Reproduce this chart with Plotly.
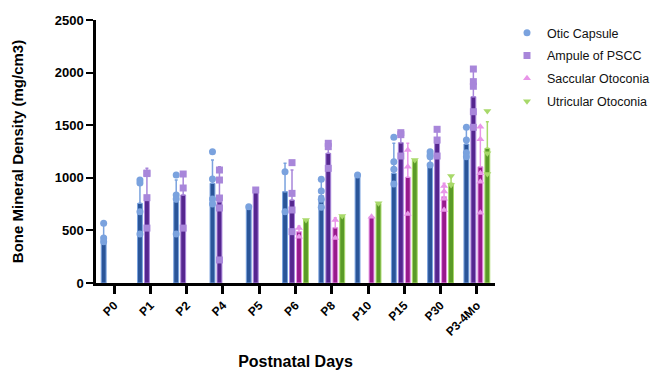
import plotly.graph_objects as go

# ---------------- data ----------------
categories = ["P0", "P1", "P2", "P4", "P5", "P6", "P8", "P10", "P15", "P30", "P3-4Mo"]
series_names = ["Otic Capsule", "Ampule of PSCC", "Saccular Otoconia", "Utricular Otoconia"]

otic_mean = [440, 757, 773, 948, 725, 868, 830, 1027, 1043, 1138, 1321]
otic_sd = [127, 206, 206, 221, None, 270, 165, None, 285, 110, 160]
otic_points = [[567, 427, 393], [979, 950, 678, 466], [1027, 837, 799, 466],
               [1248, 989, 799, 751], [725], [1058, 678], [986, 875, 795, 720],
               [1027], [1385, 1153, 1081, 941], [1248, 1217, 1201, 1122],
               [1480, 1359, 1239, 1201]]

ampule_mean = [None, 820, 837, 773, 884, 789, 1233, None, 1334, 1330, 1771]
ampule_sd = [None, 270, 221, 332, None, 285, 95, None, 95, 131, 263]
ampule_points = [[], [1045, 1040, 811, 522], [1036, 903, 522],
                 [1074, 979, 808, 713, 219], [884], [1144, 852, 694, 488],
                 [1328, 1296, 1090], [], [1429, 1410, 1207], [1461, 1359, 1207],
                 [2034, 1914, 1870, 1628, 1480]]

saccular_mean = [None, None, None, None, None, 488, 526, 630, 1005, 820, 1105]
saccular_sd = [None, None, None, None, None, 54, 95, None, 323, 128, 387]
saccular_points = [[], [], [], [], [], [523, 440], [599, 428], [630],
                   [1264, 1105, 656], [922, 870, 800, 694],
                   [1486, 1366, 1043, 963, 668]]

utricular_mean = [None, None, None, None, None, 599, 637, 757, 1169, 948, 1280]
utricular_sd = [None, None, None, None, None, None, None, None, None, 69, 253]
utricular_points = [[], [], [], [], [], [599], [637], [757], [1169],
                    [1017, 932], [1635, 1233, 1036]]

y_ticks = [0, 500, 1000, 1500, 2000, 2500]

# ---------------- styling ----------------
dark_colors = ["#2A5599", "#55268F", "#981A8C", "#5A9A28"]
light_colors = ["#7AA2DE", "#A886DA", "#E895E8", "#A8D96A"]
symbols = ["circle", "square", "triangle-up", "triangle-down"]
BARGAP = 0.23
FONT = "Arial, Liberation Sans, sans-serif"

W, H = 658, 370
ML, MR, MT, MB = 96, 0, 20, 87
plot_w = W - ML - MR
plot_h = H - MT - MB
x_dom_end = 399 / plot_w

means = [otic_mean, ampule_mean, saccular_mean, utricular_mean]
sds = [otic_sd, ampule_sd, saccular_sd, utricular_sd]
points = [otic_points, ampule_points, saccular_points, utricular_points]

xpos = list(range(len(categories)))
slot = (1 - BARGAP) / 4

fig = go.Figure()
for k in range(4):
    fig.add_trace(go.Bar(
        x=xpos, y=means[k], name=series_names[k], showlegend=False,
        marker=dict(color=dark_colors[k], line=dict(color=light_colors[k], width=1)),
        error_y=dict(type="data", symmetric=False,
                     array=[s if s is not None else float("nan") for s in sds[k]],
                     arrayminus=[0] * len(categories),
                     color=light_colors[k], thickness=1.5, width=1.5),
    ))

for k in range(4):
    px, py = [], []
    off = (k - 1.5) * slot
    for i, vals in enumerate(points[k]):
        for v in vals:
            px.append(i + off)
            py.append(v)
    fig.add_trace(go.Scatter(
        x=px, y=py, mode="markers", name=series_names[k],
        legendgroup="g%d" % k,
        marker=dict(symbol=symbols[k], size=7, color=light_colors[k]),
        showlegend=True,
    ))

fig.update_layout(
    width=W, height=H,
    margin=dict(l=ML, r=MR, t=MT, b=MB, autoexpand=False),
    paper_bgcolor="white", plot_bgcolor="white",
    barmode="group", bargap=BARGAP, bargroupgap=0.3,
    font=dict(family=FONT, color="black"),
    legend=dict(x=(507 - ML) / plot_w, y=1.0 + 2 / plot_h, xanchor="left", yanchor="top",
                font=dict(family=FONT, size=12.5, color="#111"),
                itemsizing="trace", tracegroupgap=3.6,
                bgcolor="rgba(0,0,0,0)"),
)

fig.update_xaxes(
    domain=[0, x_dom_end], automargin=False,
    range=[-0.5, len(categories) - 0.5],
    tickmode="array", tickvals=xpos, ticktext=categories,
    tickangle=-45,
    tickfont=dict(family=FONT, size=12, color="black", weight="bold"),
    showline=True, linecolor="black", linewidth=2.5,
    ticks="outside", ticklen=8, tickwidth=2.5, tickcolor="black",
    showgrid=False, zeroline=False,
    title=dict(text="<b>Postnatal Days</b>", font=dict(family=FONT, size=16, color="black"), standoff=20),
)
fig.update_yaxes(
    automargin=False,
    range=[0, 2500],
    tickmode="array", tickvals=y_ticks, ticktext=[str(t) for t in y_ticks],
    tickfont=dict(family=FONT, size=13, color="black", weight="bold"),
    showline=True, linecolor="black", linewidth=2.5,
    ticks="outside", ticklen=7, tickwidth=2, tickcolor="black",
    showgrid=False, zeroline=False,
    title=dict(text="<b>Bone Mineral Density (mg/cm3)</b>", font=dict(family=FONT, size=15, color="black"), standoff=28),
)

fig.write_html("out.html", config={"displayModeBar": False},
               post_script="document.body.style.margin='0';")
